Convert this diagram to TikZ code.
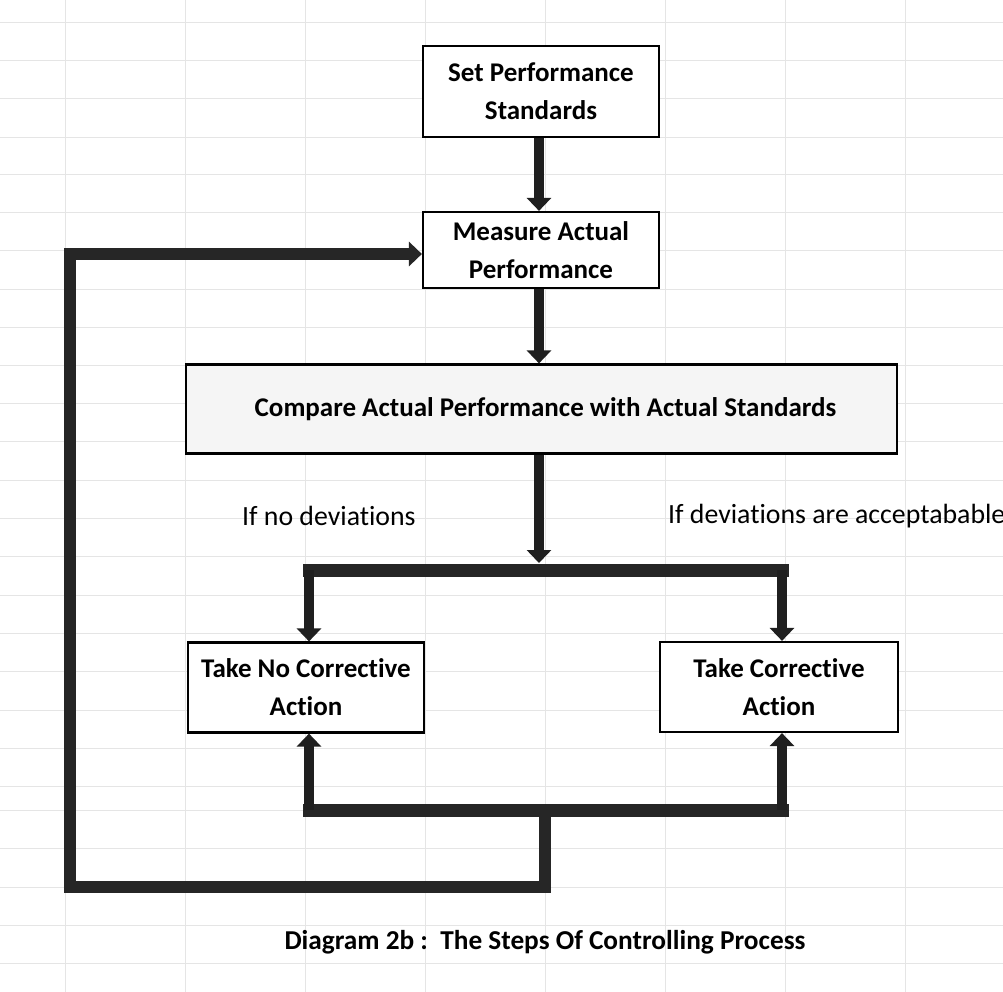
\documentclass[tikz,border=0pt]{standalone}
\usepackage{fontspec}
\setmainfont{Carlito}[Ligatures=NoCommon]
\usetikzlibrary{arrows.meta}
\begin{document}
\begin{tikzpicture}[x=1pt,y=-1pt,
  box/.style={draw=black,line width=2.2pt,fill=white,align=center,font=\fontsize{27}{38}\selectfont\bfseries,inner sep=0pt},
  flow/.style={draw=black!88,line width=10pt},
  bar/.style={draw=black!85,line width=13pt,line cap=rect},
  tip/.style={-{Triangle[width=24pt,length=13pt]}},
  lbl/.style={font=\fontsize{27.8}{30}\selectfont,anchor=west,inner sep=0pt},
  gridline/.style={draw=black!10,line width=0.6pt}
]
\useasboundingbox (0,0) rectangle (1003,992);
\fill[white] (0,0) rectangle (1003,992);
% faint graph-paper grid
\foreach \gx in {65,185,305,425,545,665,785,905}
  \draw[gridline] (\gx,0) -- (\gx,992);
\foreach \gy in {22,60,98,137,174,212,250,289,327,365,403,441,480,518,556,595,633,671,710,748,786,810,848,887,925,963}
  \draw[gridline] (0,\gy) -- (1003,\gy);

% boxes
\node[box,minimum width=236pt,minimum height=91pt] (b1) at (541,91.5) {Set Performance\\Standards};
\node[box,minimum width=236pt,minimum height=76pt] (b2) at (541,250) {Measure Actual\\Performance};
\node[box,minimum width=711pt,minimum height=89pt,fill=black!4] (b3) at (541.5,409) {\hspace*{8pt}Compare Actual Performance with Actual Standards};
\node[box,minimum width=236pt,minimum height=90pt] (b4) at (306,687.5) {Take No Corrective\\Action};
\node[box,minimum width=238pt,minimum height=90pt] (b5) at (779,687) {Take Corrective\\Action};

% labels
\node[lbl] (l1) at (242,516) {If no deviations};
\node[lbl] (l2) at (668,516) {If deviations are acceptabable};

% junction coordinates
\coordinate (t0) at (539,563);
\coordinate (tl) at (309,570);
\coordinate (tr) at (782,570);
\coordinate (ul) at (309,810);
\coordinate (ur) at (782,810);
\coordinate (um) at (545,810);
\coordinate (lb) at (545,887);
\coordinate (ll) at (70,887);
\coordinate (lt) at (70,254);

% connectors
\draw[flow,tip] (b1.south -| 539,0) -- (b2.north -| 539,0);
\draw[flow,tip] (b2.south -| 539,0) -- (b3.north -| 539,0);
\draw[flow,tip] (b3.south -| 539,0) -- (t0);
\draw[bar] (tl) -- (tr);
\draw[flow,tip] (tl) -- (b4.north -| tl);
\draw[flow,tip] (tr) -- (b5.north -| tr);
\draw[bar] (ul) -- (ur);
\draw[flow,tip] (ul) -- (b4.south -| ul);
\draw[flow,tip] (ur) -- (b5.south -| ur);
\draw[bar,line width=12pt,line join=miter,line cap=butt,-{Triangle[width=24pt,length=13pt]}] (um) -- (lb) -- (ll) -- (lt) -- (b2.west |- lt);

% caption
\node[font=\fontsize{27.3}{30}\selectfont\bfseries] (cap) at (545,942) {Diagram 2b :\ \ The Steps Of Controlling Process};
\end{tikzpicture}
\end{document}
